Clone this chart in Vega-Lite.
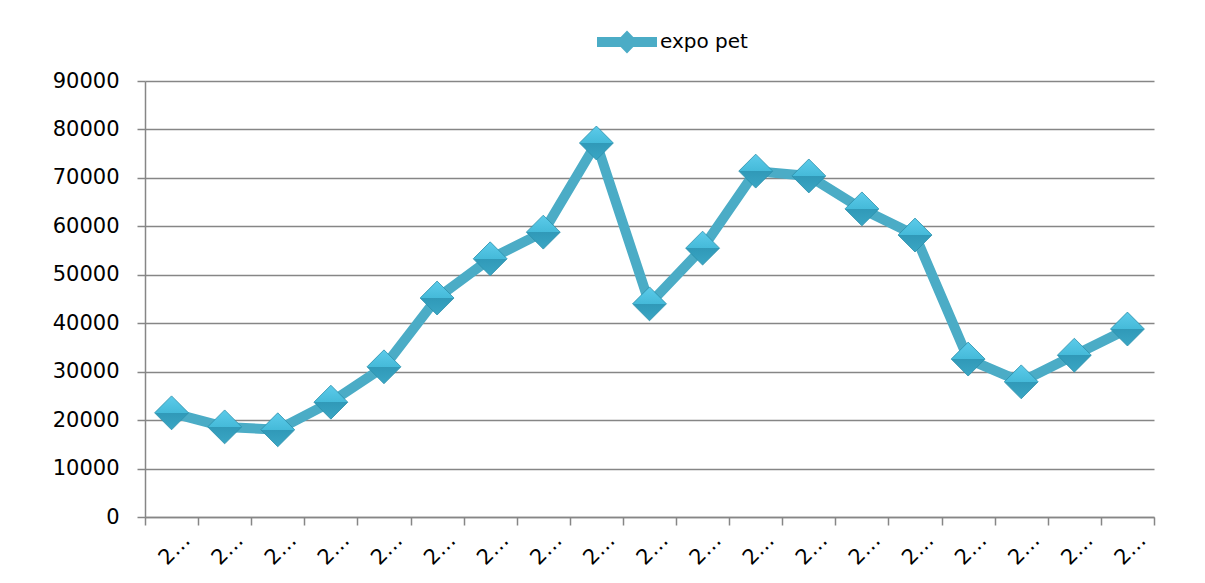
{
  "$schema": "https://vega.github.io/schema/vega-lite/v6.json",
  "autosize": {"type": "none"},
  "width": 1009,
  "height": 436,
  "padding": {"left": 145, "top": 81, "right": 51, "bottom": 66},
  "background": "white",
  "config": {
    "view": {"stroke": null},
    "font": "DejaVu Sans",
    "axis": {"labelFont": "DejaVu Sans", "labelFontSize": 21, "labelColor": "#000000", "domainColor": "#868686", "tickColor": "#868686", "gridColor": "#868686", "domainWidth": 1.5, "tickWidth": 1.5, "gridWidth": 1.5, "tickSize": 8}
  },
  "data": {
    "values": [
      {"year": "2000", "value": 21500, "series": "expo pet"},
      {"year": "2001", "value": 18600, "series": "expo pet"},
      {"year": "2002", "value": 18000, "series": "expo pet"},
      {"year": "2003", "value": 23700, "series": "expo pet"},
      {"year": "2004", "value": 31000, "series": "expo pet"},
      {"year": "2005", "value": 45200, "series": "expo pet"},
      {"year": "2006", "value": 53300, "series": "expo pet"},
      {"year": "2007", "value": 58800, "series": "expo pet"},
      {"year": "2008", "value": 77200, "series": "expo pet"},
      {"year": "2009", "value": 44000, "series": "expo pet"},
      {"year": "2010", "value": 55500, "series": "expo pet"},
      {"year": "2011", "value": 71400, "series": "expo pet"},
      {"year": "2012", "value": 70400, "series": "expo pet"},
      {"year": "2013", "value": 63600, "series": "expo pet"},
      {"year": "2014", "value": 58200, "series": "expo pet"},
      {"year": "2015", "value": 32600, "series": "expo pet"},
      {"year": "2016", "value": 27900, "series": "expo pet"},
      {"year": "2017", "value": 33400, "series": "expo pet"},
      {"year": "2018", "value": 38800, "series": "expo pet"}
    ]
  },
  "encoding": {
    "x": {
      "field": "year", "type": "ordinal", "title": null,
      "scale": {"paddingInner": 0, "paddingOuter": 0},
      "axis": {"tickBand": "extent", "grid": false, "labelAngle": -45, "labelAlign": "right", "labelBaseline": "middle", "labelPadding": 12, "labelOffset": 15, "labelExpr": "datum.label ? substring(datum.label, 0, 1) + '\u2026' : ''"}
    },
    "y": {
      "field": "value", "type": "quantitative", "title": null,
      "scale": {"domain": [0, 90000], "nice": false},
      "axis": {"values": [0, 10000, 20000, 30000, 40000, 50000, 60000, 70000, 80000, 90000], "format": "d", "labelPadding": 18, "grid": true}
    }
  },
  "layer": [
    {
      "mark": {"type": "line", "color": "#4BACC6", "strokeWidth": 10, "strokeJoin": "round"}
    },
    {
      "mark": {"type": "point", "shape": "diamond", "filled": true, "size": 1150, "opacity": 1,
        "fill": {"gradient": "linear", "x1": 0, "y1": 0, "x2": 0, "y2": 1, "stops": [{"offset": 0, "color": "#5CCBEA"}, {"offset": 0.5, "color": "#45BAD9"}, {"offset": 0.5, "color": "#3099B8"}, {"offset": 1, "color": "#3AA6C4"}]},
        "stroke": "#2A8FAB", "strokeWidth": 0.8},
      "encoding": {
        "color": {
          "field": "series", "type": "nominal",
          "scale": {"range": ["#4BACC6"]},
          "legend": {"title": null, "orient": "none", "legendX": 452, "legendY": -69, "symbolType": "M-1,-0.17L1,-0.17L1,0.17L-1,0.17Z M0,-0.38L0.37,0L0,0.38L-0.37,0Z", "symbolSize": 3600, "symbolStrokeWidth": 0, "symbolFillColor": "#4BACC6", "labelFont": "DejaVu Sans", "labelFontSize": 20, "labelColor": "#000000", "labelOffset": 3}
        }
      }
    }
  ]
}
